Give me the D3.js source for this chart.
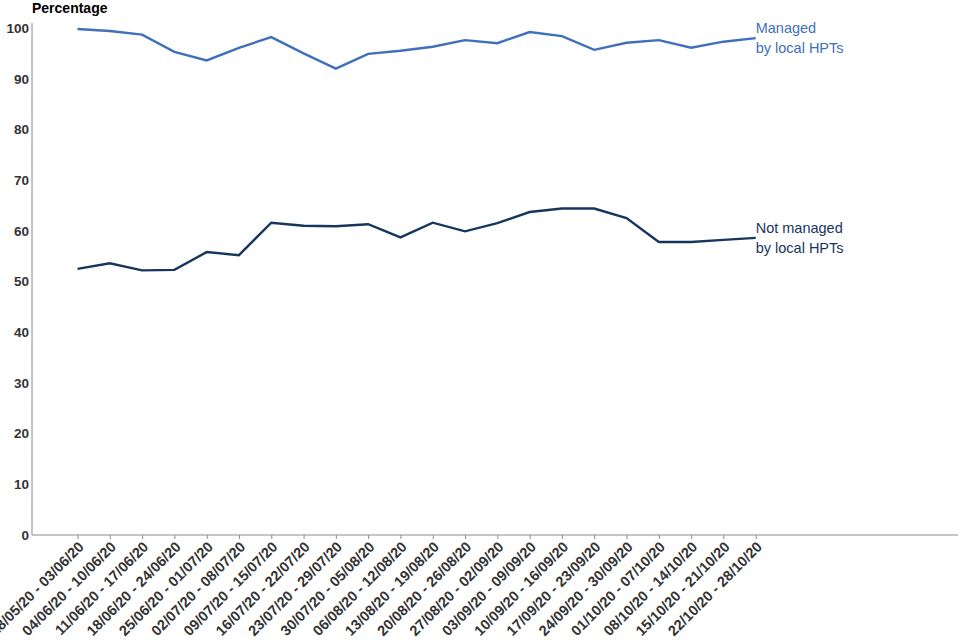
<!DOCTYPE html>
<html><head><meta charset="utf-8">
<script src="https://cdn.jsdelivr.net/npm/d3@7/dist/d3.min.js"></script>
<style>
body{margin:0;background:#fff;}
svg{display:block;font-family:"Liberation Sans",Arial,sans-serif;}
</style></head><body>
<svg id="chart" width="960" height="640"></svg>
<script>
const categories = ["28/05/20 - 03/06/20","04/06/20 - 10/06/20","11/06/20 - 17/06/20","18/06/20 - 24/06/20","25/06/20 - 01/07/20","02/07/20 - 08/07/20","09/07/20 - 15/07/20","16/07/20 - 22/07/20","23/07/20 - 29/07/20","30/07/20 - 05/08/20","06/08/20 - 12/08/20","13/08/20 - 19/08/20","20/08/20 - 26/08/20","27/08/20 - 02/09/20","03/09/20 - 09/09/20","10/09/20 - 16/09/20","17/09/20 - 23/09/20","24/09/20 - 30/09/20","01/10/20 - 07/10/20","08/10/20 - 14/10/20","15/10/20 - 21/10/20","22/10/20 - 28/10/20"];
const managed = [99.8,99.4,98.7,95.3,93.6,96.1,98.2,95.0,92.0,94.9,95.5,96.3,97.6,97.0,99.2,98.4,95.7,97.1,97.6,96.1,97.3,98.0];
const notManaged = [52.5,53.6,52.2,52.3,55.8,55.2,61.6,61.0,60.9,61.3,58.7,61.6,59.9,61.5,63.7,64.4,64.4,62.5,57.8,57.8,58.2,58.6];
const yTicks = [0,10,20,30,40,50,60,70,80,90,100];
const seriesNames = [["Managed","by local HPTs"],["Not managed","by local HPTs"]];
const colors = ["#3f70b9","#17365e"];

const svg = d3.select("#chart");
const mLeft = 32, mRight = 958, mTop = 28, mBottom = 535;
const x = d3.scalePoint().domain(categories).range([77.5, 755.7]);
const y = d3.scaleLinear().domain([0,100]).range([mBottom, mTop]);

// y axis
const yAxis = svg.append("g").attr("transform",`translate(${mLeft},0)`)
  .call(d3.axisLeft(y).tickValues(yTicks).tickSize(0).tickPadding(3));
yAxis.select(".domain").attr("stroke","#8c8c8c").attr("d",`M0,${mTop-5}V${mBottom}`);
yAxis.selectAll("text").attr("font-size",13.5).attr("font-weight","bold").attr("fill","#333").attr("font-family","Liberation Sans, Arial, sans-serif");

// x axis
const xAxis = svg.append("g").attr("transform",`translate(0,${mBottom})`)
  .call(d3.axisBottom(x).tickSize(4).tickSizeOuter(0));
xAxis.select(".domain").attr("stroke","#8c8c8c").attr("d",`M${mLeft},0H${mRight}`);
xAxis.selectAll(".tick line").attr("stroke","#8c8c8c");
xAxis.selectAll("text").attr("font-size",14.5).attr("font-weight","bold").attr("fill","#333")
  .attr("font-family","Liberation Sans, Arial, sans-serif")
  .attr("text-anchor","end").attr("dy",null)
  .attr("transform","translate(4,10) rotate(-45)").attr("y",0).attr("x",0).attr("dominant-baseline","middle");

// title
svg.append("text").attr("x",mLeft).attr("y",13).text("Percentage")
  .attr("font-size",14).attr("font-weight","bold").attr("fill","#000");

// lines
const line = d3.line().x((d,i)=>x(categories[i])).y(d=>y(d));
[managed, notManaged].forEach((s,k)=>{
  svg.append("path").datum(s).attr("d",line).attr("fill","none")
    .attr("stroke",colors[k]).attr("stroke-width",2.4).attr("stroke-linejoin","miter");
  const lx = x(categories[categories.length-1]);
  const ly = y(s[s.length-1]);
  const t = svg.append("text").attr("x",lx).attr("fill",colors[k]).attr("font-size",14.5);
  t.append("tspan").attr("x",lx).attr("y",ly-5).text(seriesNames[k][0]);
  t.append("tspan").attr("x",lx).attr("y",ly+15).text(seriesNames[k][1]);
});
</script></body></html>
